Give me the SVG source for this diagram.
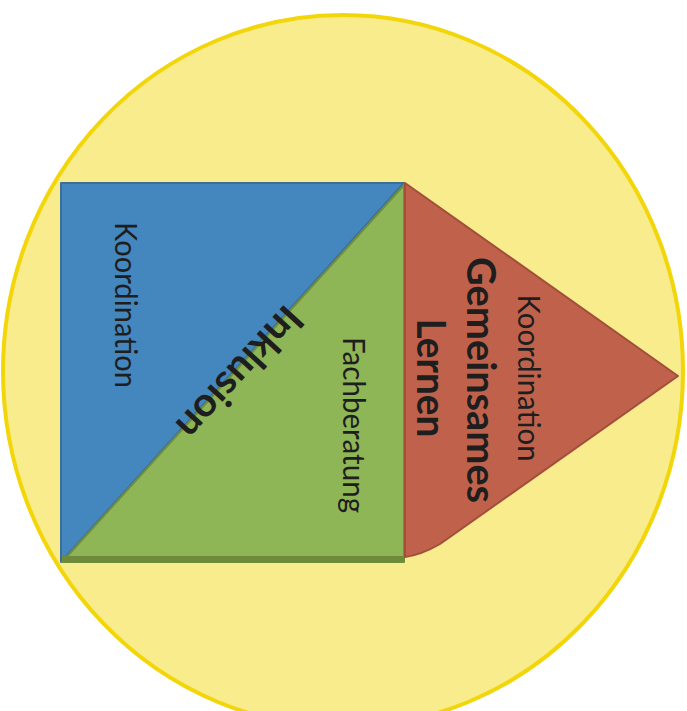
<svg xmlns="http://www.w3.org/2000/svg" width="687" height="711" viewBox="0 0 687 711">
  <style>
    .lbl { font-family: Lato, "Open Sans", "Liberation Sans", sans-serif; fill: #1e1e1e; text-anchor: middle; }
    .reg { font-size: 30px; font-weight: 400; }
    .bold { font-size: 40px; font-weight: 700; }
  </style>
  <rect x="0" y="0" width="687" height="711" fill="#ffffff"/>
  <g id="circle">
    <ellipse cx="343" cy="371" rx="340" ry="356" fill="#f8ec8c" stroke="#f2d60a" stroke-width="4"/>
  </g>
  <g id="blue">
    <polygon points="61,183 404,183 61,562" fill="#4387be" stroke="#3a6f9a" stroke-width="2" stroke-linejoin="round"/>
    <text class="lbl reg" transform="translate(115,305) rotate(90)" textLength="166" lengthAdjust="spacingAndGlyphs">Koordination</text>
  </g>
  <g id="green">
    <polygon points="404,185 404,562 62,562" fill="#8eb556" stroke="#6f8e3e" stroke-width="2" stroke-linejoin="round"/>
    <rect x="62" y="556" width="342" height="6" fill="#6f8a3a"/>
    <text class="lbl reg" transform="translate(343,425) rotate(90)" textLength="176" lengthAdjust="spacingAndGlyphs">Fachberatung</text>
  </g>
  <g id="inklusion">
    <text class="lbl bold" transform="translate(240,373) rotate(132.5)" y="14" textLength="165" lengthAdjust="spacingAndGlyphs">Inklusion</text>
  </g>
  <g id="red">
    <path d="M405,183 L678,376 L440,544 Q421,555 405,557 Z" fill="#c0624b" stroke="#a24e3b" stroke-width="2" stroke-linejoin="round"/>
    <text class="lbl reg" transform="translate(518,378) rotate(90)" textLength="167" lengthAdjust="spacingAndGlyphs">Koordination</text>
    <text class="lbl bold" transform="translate(467,380) rotate(90)" textLength="246" lengthAdjust="spacingAndGlyphs">Gemeinsames</text>
    <text class="lbl bold" transform="translate(417,378) rotate(90)" textLength="119" lengthAdjust="spacingAndGlyphs">Lernen</text>
  </g>
  <g id="connectors"></g>
</svg>
